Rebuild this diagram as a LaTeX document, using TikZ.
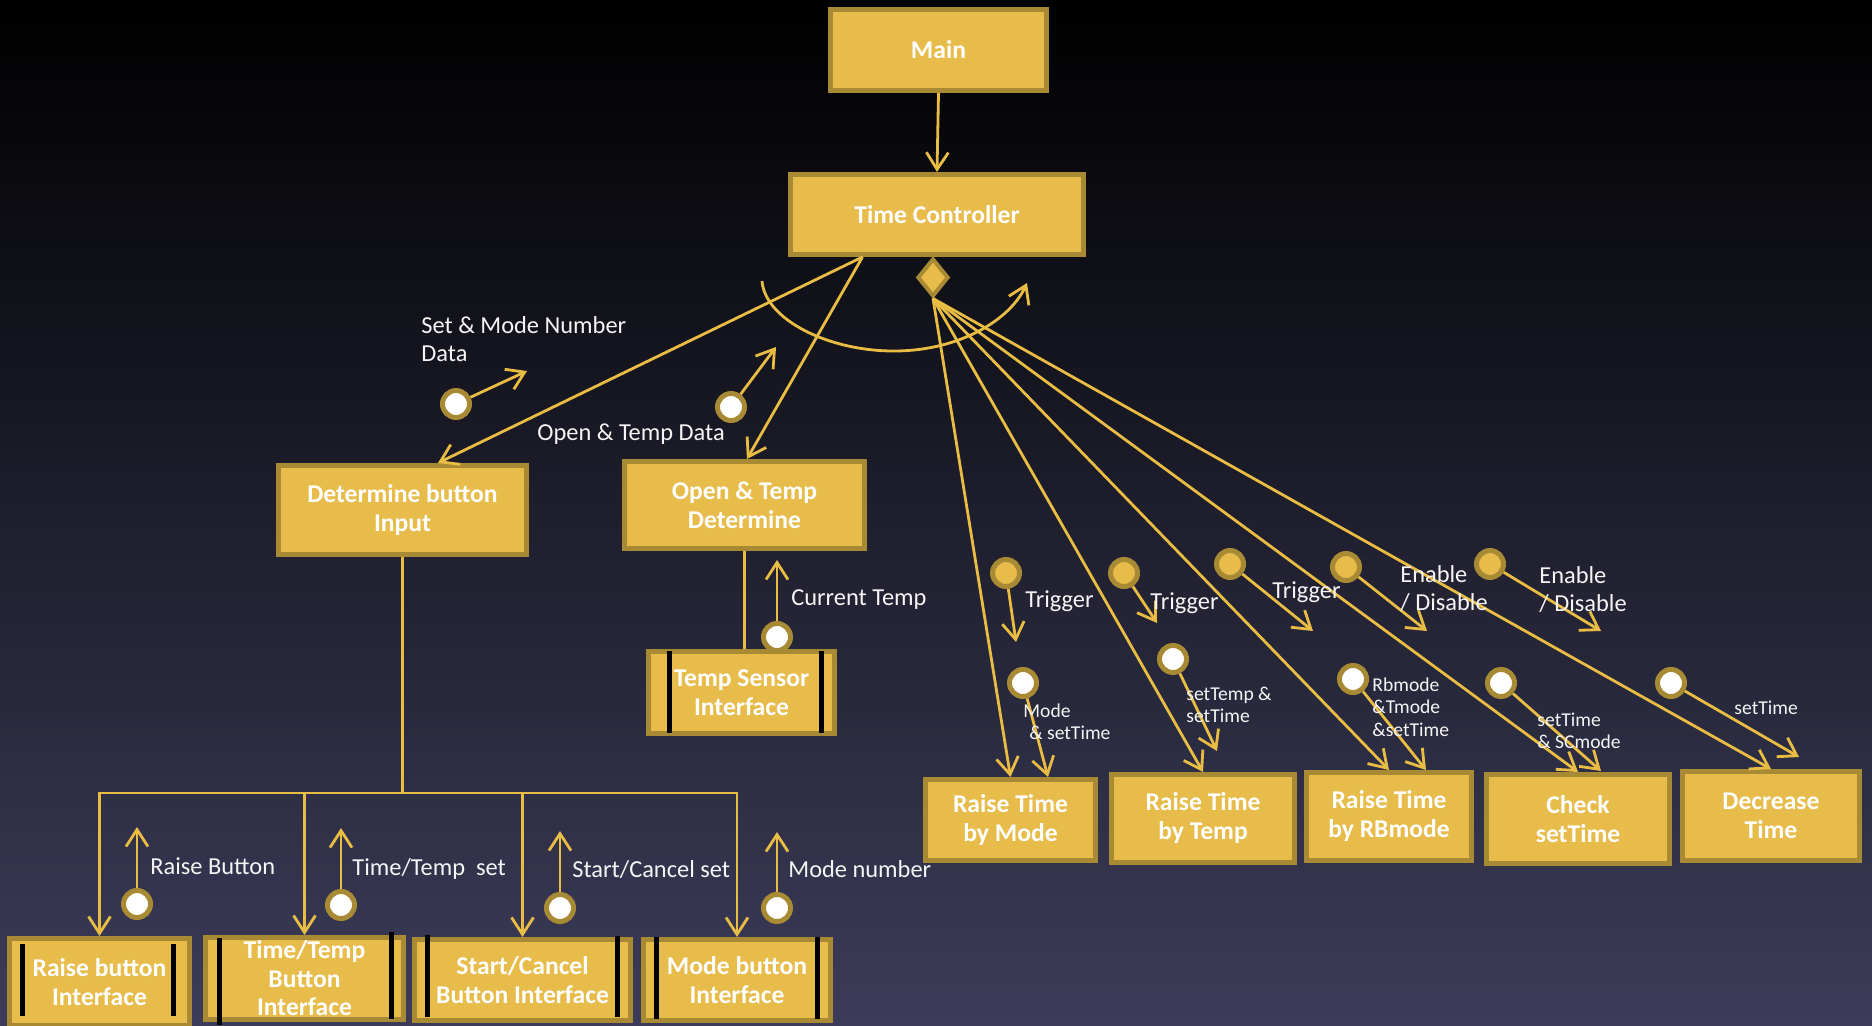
\documentclass[tikz,border=0pt]{standalone}
\usepackage{fontspec}
\setmainfont{Carlito}
\usetikzlibrary{arrows.meta,calc,shapes.geometric}
\definecolor{boxfill}{RGB}{232,188,74}
\definecolor{boxedge}{RGB}{168,137,52}
\definecolor{wire}{RGB}{233,188,68}
\definecolor{bgtop}{RGB}{0,0,0}
\definecolor{bgmid}{RGB}{27,25,48}
\definecolor{bgbot}{RGB}{60,60,90}
\definecolor{ink}{RGB}{245,245,245}

\begin{document}
\begin{tikzpicture}[x=0.5pt,y=-0.5pt,
  box/.style={draw=boxedge, fill=boxfill, line width=2.5pt, text=white,
    font=\bfseries\fontsize{12.8}{14.5}\selectfont, align=center, inner sep=0pt},
  boxtext/.style={text=white, font=\bfseries\fontsize{12.8}{14.25}\selectfont,
    align=center, inner sep=0pt},
  flow/.style={draw=wire, line width=1.4pt,
    -{Straight Barb[length=8.5pt,width=11pt,line width=1.4pt]}},
  plain/.style={draw=wire, line width=1.4pt},
  datadot/.style={circle, draw=boxedge, fill=white, line width=2.5pt,
    minimum size=13.5pt, inner sep=0pt},
  ctrldot/.style={datadot, fill=boxfill},
  bar/.style={draw=black, line width=2.5pt},
  lbl/.style={text=ink, font=\fontsize{12.2}{14}\selectfont, align=left,
    inner sep=0pt, anchor=west},
  small/.style={lbl, font=\fontsize{9.8}{11.25}\selectfont},
]
% background
\useasboundingbox (0,0) rectangle (1872,1026);
\shade[top color=bgtop, middle color=bgmid, bottom color=bgbot]
  (0,0) rectangle (1872,1026);

% ---- top of the hierarchy
\node[box, minimum width=108pt, minimum height=40.5pt] (main) at (938.5,50) {Main};
\node[box, minimum width=146.5pt, minimum height=40pt] (tc) at (937,214.5) {Time Controller};
\node[diamond, draw=boxedge, fill=boxfill, line width=2pt, minimum width=15.5pt,
  minimum height=19pt, inner sep=0pt] (agg) at (933,277.5) {};
\draw[flow] (main.south) -- (tc.north);

% iteration loop under the controller
\coordinate (loopS) at (762,281);
\coordinate (loopB) at (897,351);
\coordinate (loopE) at (1027,283);
\draw[flow] (loopS) .. controls (765,320) and (830,352) .. (loopB)
  .. controls (960,350) and (1010,320) .. (loopE);

% ---- left branch
\node[box, minimum width=124pt, minimum height=44.5pt] (dbi) at (402.5,510) {Determine button\\Input};
\node[box, minimum width=120pt, minimum height=43.5pt] (oat) at (744.5,505) {Open \& Temp\\Determine};
\node[box, minimum width=93pt, minimum height=41pt] (tsi) at (741.5,692.5) {Temp Sensor\\Interface};
\draw[bar] (669,651) -- (669,733);
\draw[bar] (821,651) -- (821,733);

\draw[flow] ($(tc.south west)!0.25!(tc.south east)$) -- ($(dbi.north west)!0.64!(dbi.north east)$);
\draw[flow] ($(tc.south west)!0.25!(tc.south east)$) -- ($(oat.north west)!0.51!(oat.north east)$);
\draw[plain] (oat.south) -- (oat.south |- tsi.north);

% data couples on the left branch
\node[datadot] (d1) at (456,404) {};
\coordinate (d1t) at (527,371);
\draw[flow] (d1) -- (d1t);
\node[lbl] (l1) at (421,339) {Set \& Mode Number\\Data};

\node[datadot] (d2) at (731,407) {};
\coordinate (d2t) at (776,347);
\draw[flow] (d2) -- (d2t);
\node[lbl] (l2) at (537,434) {Open \& Temp Data};

\node[datadot] (d3) at (777,637) {};
\coordinate (d3t) at (777,560);
\draw[flow] (d3) -- (d3t);
\node[lbl] (l3) at (791,600) {Current Temp};

% ---- button interfaces
\node[box, minimum width=90pt, minimum height=43.5pt] (rbi) at (99.5,982) {Raise button\\Interface};
\node[box, minimum width=99pt, minimum height=41pt] (ttbi) at (304.5,978.5) {};
\node[boxtext] (ttbitxt) at (ttbi.center) {Time/Temp\\Button\\Interface};
\node[box, minimum width=108pt, minimum height=40.5pt] (scbi) at (522.5,980) {Start/Cancel\\Button Interface};
\node[box, minimum width=93.5pt, minimum height=40.5pt] (mbi) at (737,980) {Mode button\\Interface};
\draw[bar] (22,944) -- (22,1016);
\draw[bar] (173,944) -- (173,1016);
\draw[bar] (219,938) -- (219,1025);
\draw[bar] (391,932) -- (391,1019);
\draw[bar] (427,935) -- (427,1017);
\draw[bar] (617,936) -- (617,1017);
\draw[bar] (656,937) -- (656,1019);
\draw[bar] (817,937) -- (817,1019);

\coordinate (bus) at (402.5,793);
\draw[plain] (dbi.south) -- (bus);
\draw[flow] (bus) -| (rbi.north);
\draw[flow] (bus) -| (ttbi.north);
\draw[flow] (bus) -| (scbi.north);
\draw[flow] (bus) -| (mbi.north);

\node[datadot] (b1) at (137,904) {};
\coordinate (b1t) at (137,827);
\draw[flow] (b1) -- (b1t);
\node[lbl] (lb1) at (150,866) {Raise Button};

\node[datadot] (b2) at (341,905) {};
\coordinate (b2t) at (341,828);
\draw[flow] (b2) -- (b2t);
\node[lbl] (lb2) at (352,869) {Time/Temp\ \ set};

\node[datadot] (b3) at (560,908) {};
\coordinate (b3t) at (560,831);
\draw[flow] (b3) -- (b3t);
\node[lbl] (lb3) at (572,870) {Start/Cancel set};

\node[datadot] (b4) at (777,908) {};
\coordinate (b4t) at (777,832);
\draw[flow] (b4) -- (b4t);
\node[lbl] (lb4) at (788,869) {Mode number};

% ---- right branch
\node[box, minimum width=85pt, minimum height=40.5pt] (rtm) at (1010.5,820) {Raise Time\\by Mode};
\node[box, minimum width=91.5pt, minimum height=44pt] (rtt) at (1203,818.5) {Raise Time\\by Temp};
\node[box, minimum width=82.5pt, minimum height=44pt] (rtr) at (1389,816.5) {Raise Time\\by RBmode};
\node[box, minimum width=91.5pt, minimum height=44.5pt] (cst) at (1578,819) {Check\\setTime};
\node[box, minimum width=88.5pt, minimum height=44.5pt] (dt) at (1771,816) {Decrease\\Time};

\draw[flow] (agg.south) -- (rtm.north);
\draw[flow] (agg.south) -- (rtt.north);
\draw[flow] (agg.south) -- (rtr.north);
\draw[flow] (agg.south) -- (cst.north);
\draw[flow] (agg.south) -- (dt.north);

% control flags
\node[ctrldot] (c1) at (1006,573) {};
\coordinate (c1t) at (1016,642);
\draw[flow] (c1) -- (c1t);
\node[lbl] (lc1) at (1025,601) {Trigger};

\node[ctrldot] (c2) at (1124,573) {};
\coordinate (c2t) at (1157,623);
\draw[flow] (c2) -- (c2t);
\node[lbl] (lc2) at (1150,603) {Trigger};

\node[ctrldot] (c3) at (1230,564) {};
\coordinate (c3t) at (1313,631);
\draw[flow] (c3) -- (c3t);
\node[lbl] (lc3) at (1272,592) {Trigger};

\node[ctrldot] (c4) at (1346,567) {};
\coordinate (c4t) at (1427,631);
\draw[flow] (c4) -- (c4t);
\node[lbl] (lc4) at (1400,589) {Enable\\/ Disable};

\node[ctrldot] (c5) at (1490,564) {};
\coordinate (c5t) at (1601,631);
\draw[flow] (c5) -- (c5t);
\node[lbl] (lc5) at (1539,590) {Enable\\/ Disable};

% data couples on the right branch
\node[datadot] (w1) at (1023,683) {};
\coordinate (w1t) at (1048,777);
\draw[flow] (w1) -- (w1t);
\node[small] (lw1) at (1023,722) {Mode\\\hspace*{0.3em}\& setTime};

\node[datadot] (w2) at (1173,659) {};
\coordinate (w2t) at (1217,751);
\draw[flow] (w2) -- (w2t);
\node[small] (lw2) at (1186,705) {setTemp \&\\setTime};

\node[datadot] (w3) at (1353,679) {};
\coordinate (w3t) at (1426,770);
\draw[flow] (w3) -- (w3t);
\node[small] (lw3) at (1372,707) {Rbmode\\\&Tmode\\\&setTime};

\node[datadot] (w4) at (1501,683) {};
\coordinate (w4t) at (1601,771);
\draw[flow] (w4) -- (w4t);
\node[small] (lw4) at (1537,731) {setTime\\\& SCmode};

\node[datadot] (w5) at (1671,683) {};
\coordinate (w5t) at (1799,757);
\draw[flow] (w5) -- (w5t);
\node[small] (lw5) at (1734,708) {setTime};
\end{tikzpicture}
\end{document}
